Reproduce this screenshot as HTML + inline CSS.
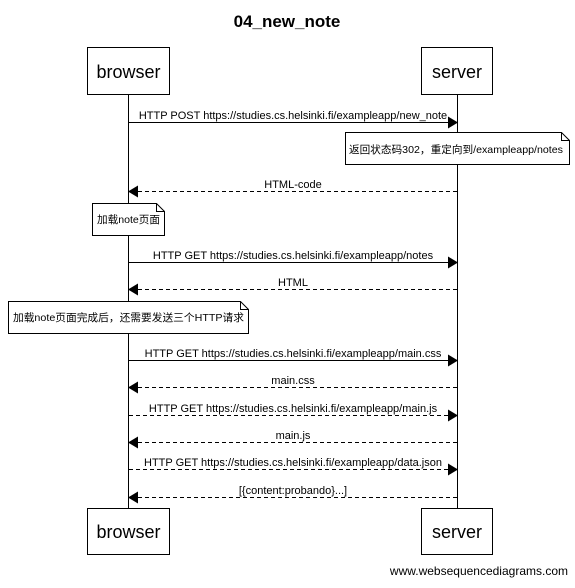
<!DOCTYPE html>
<html><head><meta charset="utf-8"><style>
html,body{margin:0;padding:0;background:#fff;}
svg text{font-family:"Liberation Sans","Noto Sans CJK SC",sans-serif;fill:#000;}
</style></head><body>
<svg width="575" height="583" viewBox="0 0 575 583" xmlns="http://www.w3.org/2000/svg">
<defs><marker id="a" markerWidth="10" markerHeight="12" refX="9" refY="6" orient="auto" markerUnits="userSpaceOnUse"><path d="M0,0 L10,6 L0,12 z" fill="#000"/></marker></defs>
<text x="287" y="27" font-size="17" font-weight="bold" text-anchor="middle">04_new_note</text>
<line x1="128.5" y1="94" x2="128.5" y2="508" stroke="#000"/>
<line x1="457.5" y1="94" x2="457.5" y2="508" stroke="#000"/>
<rect x="87.5" y="47.5" width="82" height="47" fill="#fff" stroke="#000"/>
<text x="128.5" y="78" font-size="18" text-anchor="middle">browser</text>
<rect x="421.5" y="47.5" width="71" height="47" fill="#fff" stroke="#000"/>
<text x="457" y="78" font-size="18" text-anchor="middle">server</text>
<rect x="87.5" y="508.5" width="82" height="46" fill="#fff" stroke="#000"/>
<text x="128.5" y="538" font-size="18" text-anchor="middle">browser</text>
<rect x="421.5" y="508.5" width="71" height="46" fill="#fff" stroke="#000"/>
<text x="457" y="538" font-size="18" text-anchor="middle">server</text>
<g stroke="#000">
<line x1="129" y1="122.5" x2="457" y2="122.5" marker-end="url(#a)"/>
<line x1="457" y1="191.5" x2="129" y2="191.5" stroke-dasharray="4,3" marker-end="url(#a)"/>
<line x1="129" y1="262.5" x2="457" y2="262.5" marker-end="url(#a)"/>
<line x1="457" y1="289.5" x2="129" y2="289.5" stroke-dasharray="4,3" marker-end="url(#a)"/>
<line x1="129" y1="360.5" x2="457" y2="360.5" marker-end="url(#a)"/>
<line x1="457" y1="387.5" x2="129" y2="387.5" stroke-dasharray="4,3" marker-end="url(#a)"/>
<line x1="129" y1="415.5" x2="457" y2="415.5" stroke-dasharray="4,3" marker-end="url(#a)"/>
<line x1="457" y1="442.5" x2="129" y2="442.5" stroke-dasharray="4,3" marker-end="url(#a)"/>
<line x1="129" y1="469.5" x2="457" y2="469.5" stroke-dasharray="4,3" marker-end="url(#a)"/>
<line x1="457" y1="497.5" x2="129" y2="497.5" stroke-dasharray="4,3" marker-end="url(#a)"/>
</g>
<g font-size="11" text-anchor="middle">
<text x="293" y="119">HTTP POST https://studies.cs.helsinki.fi/exampleapp/new_note</text>
<text x="293" y="188">HTML-code</text>
<text x="293" y="259">HTTP GET https://studies.cs.helsinki.fi/exampleapp/notes</text>
<text x="293" y="286">HTML</text>
<text x="293" y="357">HTTP GET https://studies.cs.helsinki.fi/exampleapp/main.css</text>
<text x="293" y="384">main.css</text>
<text x="293" y="412">HTTP GET https://studies.cs.helsinki.fi/exampleapp/main.js</text>
<text x="293" y="439">main.js</text>
<text x="293" y="466">HTTP GET https://studies.cs.helsinki.fi/exampleapp/data.json</text>
<text x="293" y="494">[{content:probando}...]</text>
</g>
<g fill="#fff" stroke="#000">
<path d="M345.5,132.5 H561.5 L569.5,140.5 V164.5 H345.5 Z"/><path d="M561.5,132.5 V140.5 H569.5" fill="none"/>
<path d="M92.5,203.5 H156.5 L164.5,211.5 V235.5 H92.5 Z"/><path d="M156.5,203.5 V211.5 H164.5" fill="none"/>
<path d="M8.5,301.5 H240.5 L248.5,309.5 V333.5 H8.5 Z"/><path d="M240.5,301.5 V309.5 H248.5" fill="none"/>
</g>
<g font-size="10.5">
<text x="349" y="153" textLength="214" lengthAdjust="spacingAndGlyphs">返回状态码302，重定向到/exampleapp/notes</text>
<text x="97" y="223" textLength="63" lengthAdjust="spacingAndGlyphs">加载note页面</text>
<text x="13" y="321" textLength="231" lengthAdjust="spacingAndGlyphs">加载note页面完成后，还需要发送三个HTTP请求</text>
</g>
<text x="568" y="575" font-size="12" text-anchor="end">www.websequencediagrams.com</text>
</svg>
</body></html>
